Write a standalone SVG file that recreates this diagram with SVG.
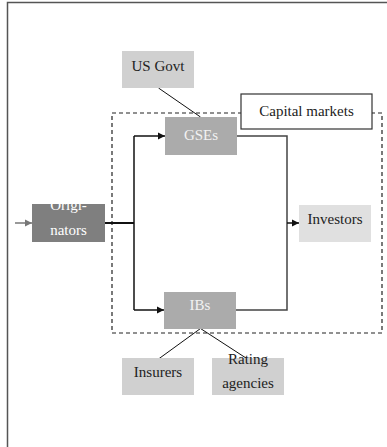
<svg xmlns="http://www.w3.org/2000/svg" width="387" height="447" viewBox="0 0 387 447">
<style>
text{font-size:15px;text-anchor:middle}
.dk{fill:#222}
.lt{fill:#f2f2f2}
.c{fill:none;stroke:#111;stroke-width:1.5}
.g{fill:none;stroke:#444;stroke-width:1.5}
.t{fill:none;stroke:#111;stroke-width:1}
</style>
<defs>
<marker id="ah" viewBox="0 0 10 10" refX="10" refY="5" markerWidth="5" markerHeight="5" orient="auto" markerUnits="strokeWidth"><path d="M0,0 L10,5 L0,10 z" fill="#111"/></marker>
<marker id="ahg" viewBox="0 0 10 10" refX="10" refY="5" markerWidth="5" markerHeight="5" orient="auto" markerUnits="strokeWidth"><path d="M0,0 L10,5 L0,10 z" fill="#777"/></marker>
</defs>
<rect width="387" height="447" fill="#fff"/>
<path d="M7.5,447 V2.5 H387" fill="none" stroke="#555" stroke-width="1.5"/>
<rect id="capital-region" x="112" y="113" width="270" height="220" fill="none" stroke="#222" stroke-width="1.2" stroke-dasharray="4,3"/>
<g id="connectors">
<line x1="15" y1="223" x2="32" y2="223" stroke="#777" stroke-width="1.5" marker-end="url(#ahg)"/>
<line x1="105" y1="223" x2="134" y2="223" stroke="#111" stroke-width="2"/>
<path class="c" d="M134,136 V310"/>
<line class="c" x1="134" y1="136" x2="165" y2="136" marker-end="url(#ah)"/>
<line class="c" x1="134" y1="310" x2="164" y2="310" marker-end="url(#ah)"/>
<path class="g" d="M237,136 H287 V310 H236"/>
<line class="c" x1="287" y1="223" x2="299" y2="223" marker-end="url(#ah)"/>
<line class="t" x1="158.5" y1="88" x2="200.5" y2="117"/>
<line class="t" x1="200.5" y1="328.5" x2="158.5" y2="359"/>
<line class="t" x1="200.5" y1="328.5" x2="247.5" y2="359"/>
</g>
<g font-family="Liberation Serif, DejaVu Serif, serif">
<g id="us-govt"><rect x="122" y="51" width="72" height="37" fill="#d0d0d0"/><text class="dk" x="158" y="71">US Govt</text></g>
<g id="capital-markets"><rect x="241" y="94" width="131" height="35" fill="#fff" stroke="#333" stroke-width="1.2"/><text class="dk" x="306.5" y="116">Capital markets</text></g>
<g id="gses"><rect x="165" y="117" width="72" height="38" fill="#ababab"/><text class="lt" x="201" y="140">GSEs</text></g>
<g id="originators"><rect x="32" y="204" width="73" height="38" fill="#7f7f7f"/><text fill="#fff" x="68.5" y="210">Origi-</text><text fill="#fff" x="68.5" y="235">nators</text></g>
<g id="investors"><rect x="299" y="205" width="72" height="37" fill="#e0e0e0"/><text class="dk" x="335" y="224">Investors</text></g>
<g id="ibs"><rect x="164" y="292" width="72" height="37" fill="#ababab"/><text class="lt" x="200" y="310">IBs</text></g>
<g id="insurers"><rect x="122" y="358" width="72" height="37" fill="#d0d0d0"/><text class="dk" x="158" y="377">Insurers</text></g>
<g id="rating-agencies"><rect x="212" y="358" width="72" height="37" fill="#d0d0d0"/><text class="dk" x="248" y="364">Rating</text><text class="dk" x="248" y="388">agencies</text></g>
</g>
</svg>
